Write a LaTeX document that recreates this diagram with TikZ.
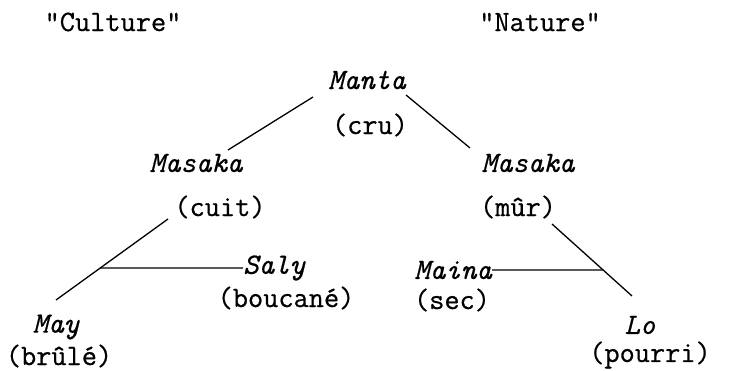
\documentclass[tikz,border=0pt]{standalone}
\usepackage{fontspec}
\newfontfamily\machine{Latin Modern Mono}[FakeBold=0.6]
\usetikzlibrary{calc}
\begin{document}
\begin{tikzpicture}[x=1pt, y=-1pt,
    mot/.style={font=\fontsize{29.5}{34}\selectfont\machine\itshape, inner sep=0pt},
    sens/.style={font=\fontsize{29.5}{34}\selectfont\machine, inner sep=0pt},
    trait/.style={line width=1.3pt}]
    \useasboundingbox (0,0) rectangle (746,371);
    \node[sens] (culture) at (113,22) {"Culture"} ;
    \node[sens] (nature) at (540,22) {"Nature"} ;
    \node[mot] (manta) at (367,80) {Manta} ;
    \node[sens] (cru) at (370,125) {(cru)} ;
    \node[mot] (masakaC) at (196,163) {Masaka} ;
    \node[sens] (cuit) at (220,207) {(cuit)} ;
    \node[mot] (masakaN) at (528,163) {Masaka} ;
    \node[sens] (mur) at (518,207) {(mûr)} ;
    \node[mot, anchor=west] (saly) at (243,268) {Saly} ;
    \node[sens] (boucane) at (286,298) {(boucané)} ;
    \node[mot] (may) at (56,327) {May} ;
    \node[sens] (brule) at (59,356) {(brûlé)} ;
    \node[mot, anchor=east] (maina) at (492,270) {Maina} ;
    \node[sens] (sec) at (452,300) {(sec)} ;
    \node[mot] (lo) at (640,325) {Lo} ;
    \node[sens] (pourri) at (650,355) {(pourri)} ;
    % branches
    \coordinate (mantaG) at (313,97) ;
    \coordinate (mantaD) at (406,95) ;
    \coordinate (masakaG) at (228,150) ;
    \coordinate (masakaD) at (470,148) ;
    \coordinate (cuitH) at (168,219) ;
    \coordinate (cuitB) at (56,300) ;
    \coordinate (murH) at (552,224) ;
    \coordinate (murB) at (632,296) ;
    \draw[trait] (mantaG) -- (masakaG) ;
    \draw[trait] (mantaD) -- (masakaD) ;
    \draw[trait] (cuitH) -- (cuitB) ;
    \draw[trait] (murH) -- (murB) ;
    \draw[trait] ($(cuitH)!0.605!(cuitB)$) -- (saly.west) ;
    \draw[trait] (maina.east) -- ($(murH)!0.64!(murB)$) ;
\end{tikzpicture}
\end{document}
